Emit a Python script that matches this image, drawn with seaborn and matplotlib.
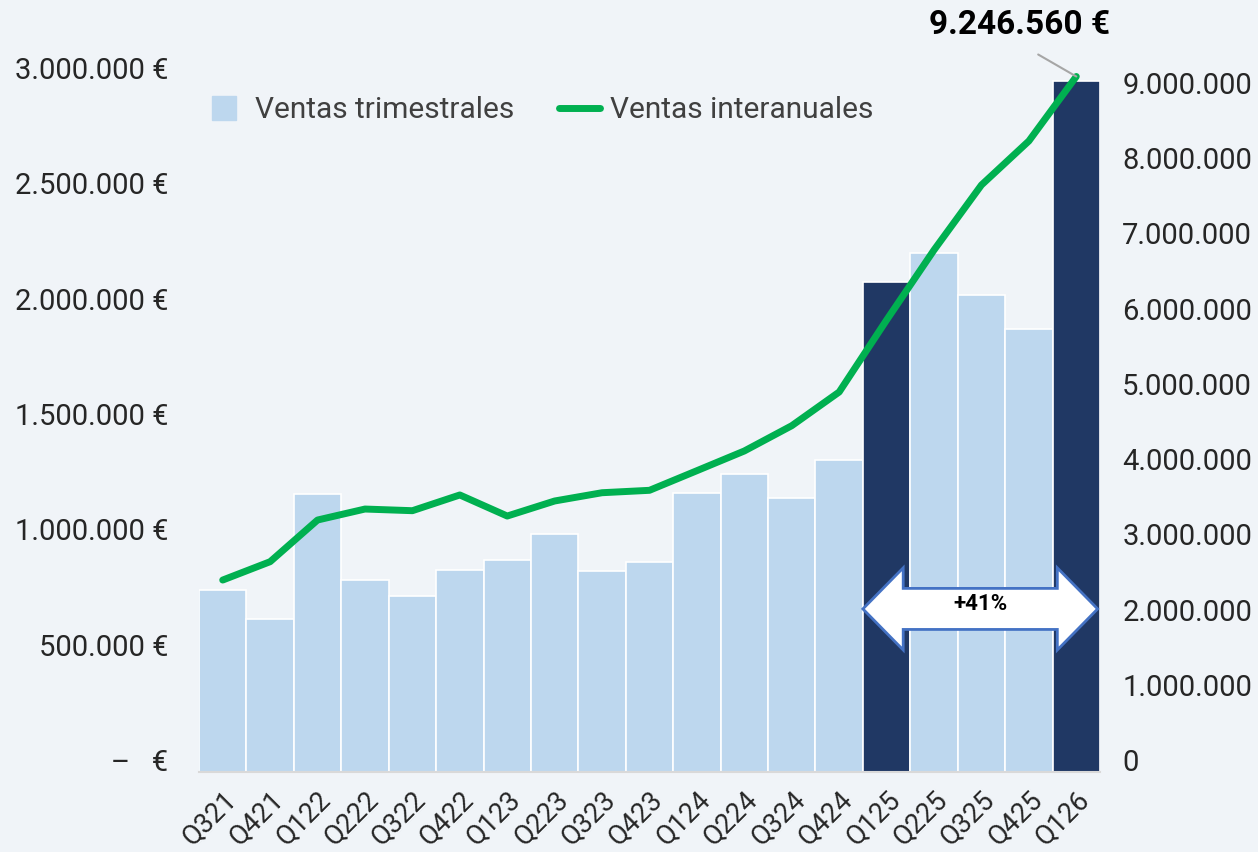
import numpy as np
import matplotlib
matplotlib.use("Agg")
import matplotlib.pyplot as plt
from matplotlib.lines import Line2D
from matplotlib.patches import Polygon
from matplotlib.transforms import ScaledTranslation
import seaborn as sns

# Quarterly sales (€) and trailing 12‑month sales (€)
quarters = ["Q321", "Q421", "Q122", "Q222", "Q322", "Q422", "Q123", "Q223",
            "Q323", "Q423", "Q124", "Q224", "Q324", "Q424", "Q125", "Q225",
            "Q325", "Q425", "Q126"]
ventas_trimestrales = [789_000, 663_000, 1_205_000, 831_000, 763_000, 876_000,
                       919_000, 1_032_000, 871_000, 910_000, 1_209_000, 1_292_000,
                       1_188_000, 1_352_000, 2_125_000, 2_251_000, 2_068_000,
                       1_920_000, 2_995_000]
ventas_interanuales = [2_552_000, 2_796_000, 3_350_000, 3_496_000, 3_474_000,
                       3_683_000, 3_403_000, 3_603_000, 3_713_000, 3_745_000,
                       4_006_000, 4_268_000, 4_604_000, 5_052_000, 6_009_000,
                       6_940_000, 7_804_000, 8_389_000, 9_246_560]
highlighted = ["Q125", "Q126"]

left_ticks = [0, 500_000, 1_000_000, 1_500_000, 2_000_000, 2_500_000, 3_000_000]
right_ticks = [0, 1_000_000, 2_000_000, 3_000_000, 4_000_000, 5_000_000,
               6_000_000, 7_000_000, 8_000_000, 9_000_000]

BG = "#F0F4F8"
LIGHT = "#BDD7EE"
DARK = "#203864"
GREEN = "#00B050"
GRID_GREY = "#D9D9D9"


def miles(v):
    return f"{v:,.0f}".replace(",", ".")


sns.set_style("white", {"axes.facecolor": BG, "figure.facecolor": BG})
plt.rcParams["font.family"] = ["Roboto", "DejaVu Sans"]

W, H = 1258, 852
fig = plt.figure(figsize=(W / 100, H / 100), dpi=100)
ax = fig.add_axes([199 / W, 80 / H, 901 / W, 692 / H])

colors = [DARK if q in highlighted else LIGHT for q in quarters]
sns.barplot(x=quarters, y=ventas_trimestrales, hue=quarters, palette=colors,
            legend=False, width=1.0, edgecolor="white", linewidth=1.2,
            saturation=1, ax=ax)

ax.set_xlim(-0.5, len(quarters) - 0.5)
ax.set_ylim(0, 3_000_000)
ax.set_yticks(left_ticks)
ax.set_yticklabels([miles(v) + " €" if v else "–   €" for v in left_ticks])
ax.set_xlabel("")
ax.set_ylabel("")

for s in ["top", "left", "right"]:
    ax.spines[s].set_visible(False)
ax.spines["bottom"].set_color(GRID_GREY)
ax.spines["bottom"].set_linewidth(1.5)

ax.set_xticks(np.arange(len(quarters)))
ax.set_xticklabels(quarters, rotation=45, ha="right", va="top",
                   rotation_mode="anchor")
ax.set_xticks(np.arange(-0.5, len(quarters), 1), minor=True)
ax.tick_params(axis="x", which="major", length=0, pad=10, labelsize=19.5)
ax.tick_params(axis="x", which="minor", length=5, width=1.5, color=GRID_GREY)
ax.tick_params(axis="y", length=0, pad=22, labelsize=21)

# Trailing 12‑month line on the secondary axis
ax2 = ax.twinx()
sns.lineplot(x=np.arange(len(quarters)), y=ventas_interanuales, color=GREEN,
             linewidth=5, ax=ax2, solid_capstyle="round", solid_joinstyle="round",
             clip_on=False)
ax2.set_ylim(0, 9_200_000)
ax2.set_yticks(right_ticks)
ax2.set_yticklabels([miles(v) for v in right_ticks])
ax2.tick_params(axis="y", length=0, pad=16, labelsize=21)
for s in ["top", "left", "right", "bottom"]:
    ax2.spines[s].set_visible(False)

# Value labels sit slightly above their gridline positions
lift = ScaledTranslation(0, 12 / 100, fig.dpi_scale_trans)
for lab in ax.get_yticklabels() + ax2.get_yticklabels():
    lab.set_transform(lab.get_transform() + lift)

# Callout for the latest trailing 12‑month figure
last = len(quarters) - 1
ax2.annotate(miles(ventas_interanuales[-1]) + " €",
             xy=(last, ventas_interanuales[-1]), xytext=(-57, 51),
             textcoords="offset pixels", ha="center", va="center",
             fontsize=24, fontweight="bold", color="black",
             arrowprops=dict(arrowstyle="-", color="#A6A6A6", lw=1.5,
                             relpos=(0.48, 0.0), shrinkA=14, shrinkB=0),
             annotation_clip=False)

# Double arrow spanning the two highlighted quarters
i0 = quarters.index(highlighted[0])
i1 = quarters.index(highlighted[1])
growth = ventas_trimestrales[i1] / ventas_trimestrales[i0] - 1
xl, xr = i0 - 0.5, i1 + 0.45
yc, shaft, head, hl = 707_000, 89_000, 178_000, 0.85
pts = [(xl, yc), (xl + hl, yc + head), (xl + hl, yc + shaft),
       (xr - hl, yc + shaft), (xr - hl, yc + head), (xr, yc),
       (xr - hl, yc - head), (xr - hl, yc - shaft), (xl + hl, yc - shaft),
       (xl + hl, yc - head)]
ax.add_patch(Polygon(pts, closed=True, facecolor="white", edgecolor="#4472C4",
                     linewidth=2, zorder=5, joinstyle="miter"))
ax.text((xl + xr) / 2, yc + 20_000, f"+{growth * 100:.0f}%", ha="center",
        va="center", fontsize=16, fontweight="bold", color="black", zorder=6)

# Legend
handles = [Line2D([], [], marker="s", linestyle="none", markersize=17,
                  markerfacecolor=LIGHT, markeredgecolor=LIGHT),
           Line2D([], [], color=GREEN, linewidth=5)]
leg = ax2.legend(handles, ["Ventas trimestrales", "Ventas interanuales"],
                 loc="center left", bbox_to_anchor=(204 / W, 1 - 110 / H),
                 bbox_transform=fig.transFigure, ncol=2, frameon=False,
                 fontsize=21.5, handlelength=1.37, handletextpad=0.33,
                 columnspacing=1.5, borderpad=0, borderaxespad=0,
                 labelcolor="#404040")

fig.savefig("out.png", dpi=100, facecolor=BG)
